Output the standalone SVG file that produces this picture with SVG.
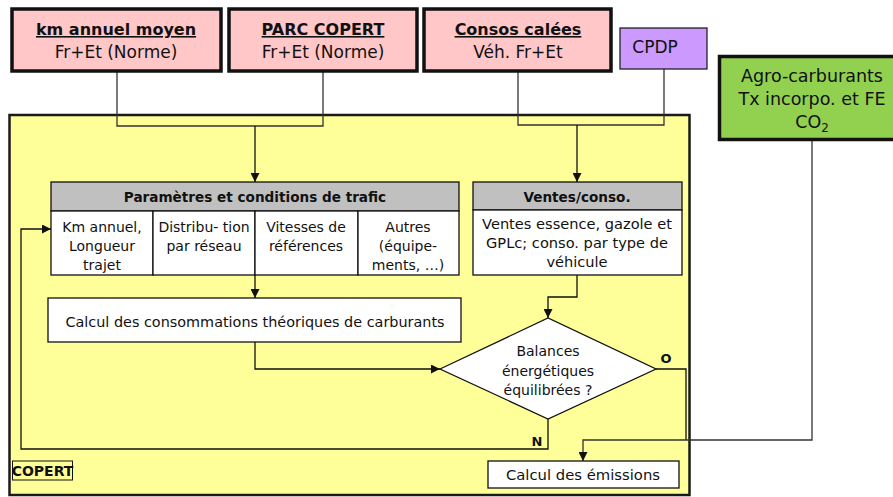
<svg xmlns="http://www.w3.org/2000/svg" width="893" height="497" viewBox="0 0 893 497">
<style>
text{font-family:"DejaVu Sans","Liberation Sans",sans-serif;fill:#111;text-anchor:middle}
.t{font-size:17px}
.tb{font-size:16px;font-weight:bold;text-decoration:underline}
.s{font-size:14px}
.sb{font-size:13.6px;font-weight:bold}
.src{fill:#ffc7c7;stroke:#111;stroke-width:3.5}
.cell{fill:#fff;stroke:#111;stroke-width:1.3}
.hdr{fill:#c0c0c0;stroke:#111;stroke-width:1.3}
.ln{fill:none;stroke:#111;stroke-width:1.3}
.lo{fill:none;stroke:#333;stroke-width:1.3}
</style>
<defs>
<marker id="ar" viewBox="0 0 10 10" refX="10" refY="5" markerWidth="9" markerHeight="9" markerUnits="userSpaceOnUse" orient="auto">
<path d="M0,0 L10,5 L0,10 z" fill="#111"/>
</marker>
</defs>
<rect width="893" height="497" fill="#fff"/>
<g id="copert-frame">
<rect x="9.5" y="115" width="680" height="380" fill="#ffff99" stroke="#1a1a1a" stroke-width="2.5"/>
<rect x="12.5" y="461" width="60" height="19" fill="none" stroke="#111" stroke-width="1"/>
<text x="42.5" y="476" style="font-size:14px;font-weight:bold">COPERT</text>
</g>
<g id="connectors">
<path class="lo" d="M117,71 V126 H323 V71"/>
<path class="ln" d="M255,126 V182" marker-end="url(#ar)"/>
<path class="lo" d="M518,71 V125 H664 V69"/>
<path class="ln" d="M577,125 V182" marker-end="url(#ar)"/>
<path class="ln" d="M255,275 V298" marker-end="url(#ar)"/>
<path class="ln" d="M577,275 V297 H548 V318" marker-end="url(#ar)"/>
<path class="ln" d="M255,342 V369 H440" marker-end="url(#ar)"/>
<path class="ln" d="M548,419 V449 H21 V229 H51" marker-end="url(#ar)"/>
<path class="ln" d="M656,369 H686 V440"/>
<path class="lo" d="M812,140 V440 H583 V461" marker-end="url(#ar)"/>
<text x="666" y="363" style="font-size:13px;font-weight:bold">O</text>
<text x="537" y="446" style="font-size:13px;font-weight:bold">N</text>
</g>
<g id="km-annuel">
<rect class="src" x="12" y="9" width="209" height="62"/>
<text class="tb" x="116" y="35">km annuel moyen</text>
<text class="t" x="116" y="58">Fr+Et (Norme)</text>
</g>
<g id="parc-copert">
<rect class="src" x="229" y="9" width="188" height="62"/>
<text class="tb" x="323" y="35">PARC COPERT</text>
<text class="t" x="323" y="58">Fr+Et (Norme)</text>
</g>
<g id="consos-calees">
<rect class="src" x="424" y="9" width="187" height="62"/>
<text class="tb" x="518" y="35">Consos calées</text>
<text class="t" x="518" y="58">Véh. Fr+Et</text>
</g>
<g id="cpdp">
<rect x="620" y="28" width="87" height="41" fill="#cc99ff" stroke="#222" stroke-width="1.3"/>
<text class="t" x="655" y="53">CPDP</text>
</g>
<g id="agro">
<rect x="719.5" y="56.5" width="185" height="83" fill="#92d050" stroke="#111" stroke-width="3.5"/>
<text class="t" x="812" y="82" style="font-size:17.5px">Agro-carburants</text>
<text class="t" x="812" y="105" style="font-size:17.5px">Tx incorpo. et FE</text>
<text class="t" x="812" y="128" style="font-size:17.5px">CO<tspan style="font-size:12px" dy="4">2</tspan></text>
</g>
<g id="parametres">
<rect class="hdr" x="51" y="182" width="408" height="29"/>
<text class="sb" x="255" y="202">Paramètres et conditions de trafic</text>
<rect class="cell" x="51" y="211" width="102" height="64"/>
<rect class="cell" x="153" y="211" width="102" height="64"/>
<rect class="cell" x="255" y="211" width="103" height="64"/>
<rect class="cell" x="358" y="211" width="101" height="64"/>
<text class="s" x="102" y="232">Km annuel,</text>
<text class="s" x="102" y="251">Longueur</text>
<text class="s" x="102" y="270">trajet</text>
<text class="s" x="204" y="232">Distribu- tion</text>
<text class="s" x="204" y="251">par réseau</text>
<text class="s" x="306" y="232">Vitesses de</text>
<text class="s" x="306" y="251">références</text>
<text class="s" x="408" y="232">Autres</text>
<text class="s" x="408" y="251">(équipe-</text>
<text class="s" x="408" y="270">ments, …)</text>
</g>
<g id="ventes">
<rect class="hdr" x="473" y="182" width="209" height="28"/>
<text class="sb" x="577" y="202">Ventes/conso.</text>
<rect class="cell" x="473" y="210" width="209" height="65"/>
<text class="s" x="577" y="229" style="font-size:14.6px">Ventes essence, gazole et</text>
<text class="s" x="577" y="248" style="font-size:14.6px">GPLc; conso. par type de</text>
<text class="s" x="577" y="267" style="font-size:14.6px">véhicule</text>
</g>
<g id="calcul-conso">
<rect class="cell" x="48" y="298" width="413" height="44"/>
<text class="s" x="255" y="327" style="font-size:14.4px">Calcul des consommations théoriques de carburants</text>
</g>
<g id="balances">
<path d="M440,369 L548,318 L656,369 L548,419 Z" fill="#fff" stroke="#111" stroke-width="1.3"/>
<text class="s" x="548" y="356">Balances</text>
<text class="s" x="548" y="376">énergétiques</text>
<text class="s" x="548" y="395">équilibrées ?</text>
</g>
<g id="calcul-emissions">
<rect class="cell" x="488" y="461" width="191" height="27"/>
<text class="s" x="583" y="480" style="font-size:14.8px">Calcul des émissions</text>
</g>
</svg>
